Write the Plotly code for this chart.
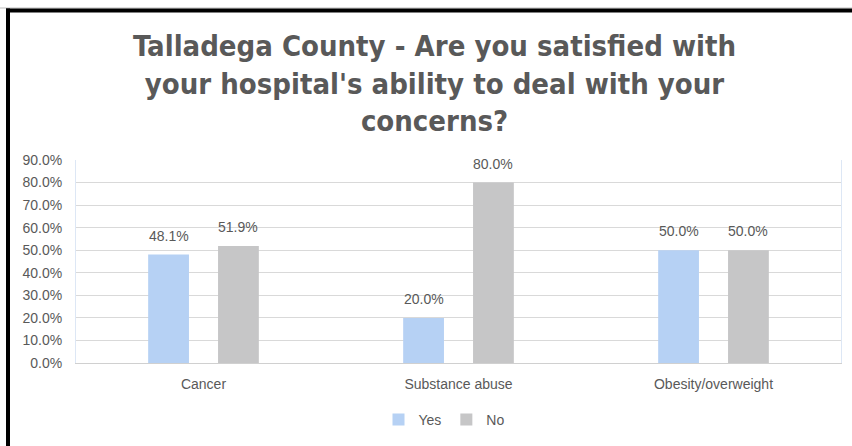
import plotly.graph_objects as go

categories = ["Cancer", "Substance abuse", "Obesity/overweight"]
yes_values = [0.481, 0.200, 0.500]
no_values = [0.519, 0.800, 0.500]
series_names = ["Yes", "No"]
title_text = ("Talladega County - Are you satisfied with<br>"
              "your hospital's ability to deal with your<br>concerns?")

W, H = 852, 446
L, R, T, B = 76, 11, 160, 83
pw, ph = W - L - R, H - T - B

def px_x(x):
    return (x - L) / pw

def px_y(y):
    return (H - B - y) / ph

FONT = "Liberation Sans, Arial, sans-serif"
GREY = "#595959"
label_font = dict(family=FONT, size=14, color=GREY)

bar_width = 0.16
offsets = [-0.217, 0.057]
colors = ["#b6d1f4", "#c6c6c7"]
series = [yes_values, no_values]

fig = go.Figure()
for name, vals, off, col in zip(series_names, series, offsets, colors):
    fig.add_trace(go.Bar(name=name, x=categories, y=vals,
                         width=bar_width, offset=off,
                         marker=dict(color=col, line=dict(width=0))))
    for i, v in enumerate(vals):
        fig.add_annotation(x=i + off + bar_width / 2, y=v, xref="x", yref="y",
                           text=f"{v:.1%}", showarrow=False, yanchor="middle",
                           yshift=19, font=label_font)

fig.update_layout(
    width=W, height=H,
    margin=dict(l=L, r=R, t=T, b=B, autoexpand=False),
    paper_bgcolor="white", plot_bgcolor="white",
    barmode="group",
    title=dict(text=title_text, x=0.51, xref="container", xanchor="center",
               y=1 - 56 / H, yref="container", yanchor="top",
               font=dict(family="DejaVu Sans Condensed, sans-serif",
                         size=29, color=GREY, weight="bold")),
    font=label_font,
    legend=dict(orientation="h", x=px_x(444), xanchor="center", y=px_y(420), yanchor="middle",
                font=dict(family=FONT, size=14, color=GREY),
                itemwidth=30, bgcolor="rgba(0,0,0,0)"),
    showlegend=True,
)
fig.update_yaxes(range=[0, 0.9], dtick=0.1, tickformat=".1%", showgrid=True,
                 gridcolor="#d9d9d9", gridwidth=1, zeroline=False,
                 showline=True, linecolor="#dde7f5", mirror=True,
                 ticks="", ticklabelstandoff=10,
                 tickfont=dict(family=FONT, size=14, color=GREY))
fig.update_xaxes(showline=True, linecolor="#d0d0d0", ticks="", ticklabelstandoff=8,
                 tickfont=dict(family=FONT, size=14, color=GREY))

# outer frame (top and left edges of the cropped chart box)
fig.add_shape(type="line", xref="paper", yref="paper", x0=px_x(0), x1=px_x(W),
              y0=px_y(8), y1=px_y(8), line=dict(color="#bdbdbd", width=1))
fig.add_shape(type="line", xref="paper", yref="paper", x0=px_x(6), x1=px_x(W),
              y0=px_y(10.5), y1=px_y(10.5), line=dict(color="black", width=4))
fig.add_shape(type="line", xref="paper", yref="paper", x0=px_x(8), x1=px_x(8),
              y0=px_y(8.5), y1=px_y(H), line=dict(color="black", width=4))

fig.write_html("out.html", config={"displayModeBar": False},
               post_script="document.body.style.margin='0';document.body.style.overflow='hidden';")
